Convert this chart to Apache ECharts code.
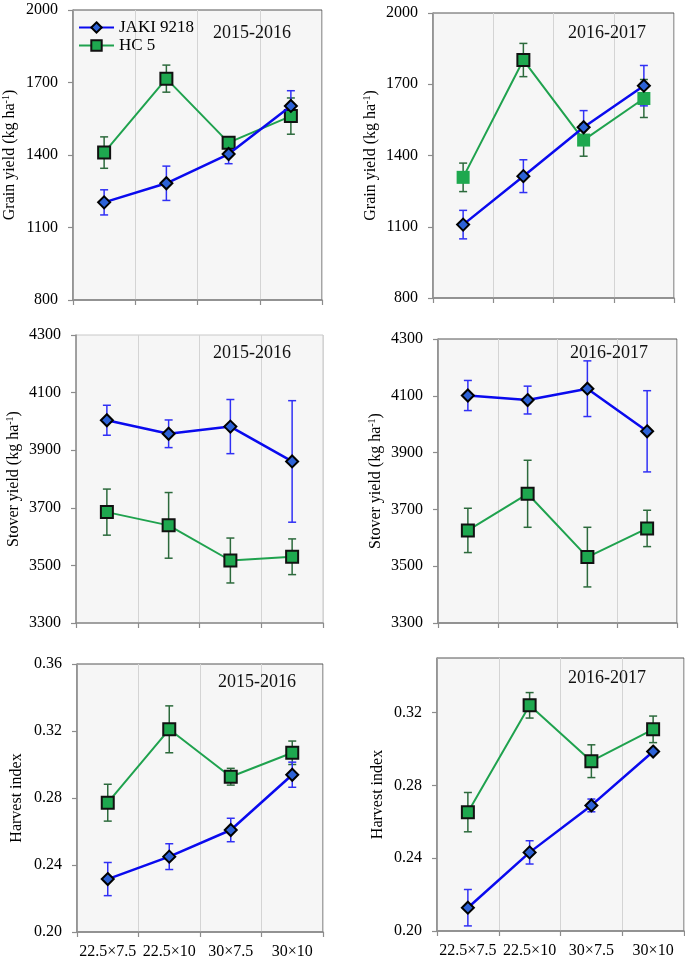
<!DOCTYPE html>
<html><head><meta charset="utf-8">
<script src="https://cdn.jsdelivr.net/npm/echarts@6/dist/echarts.min.js"></script>
<style>html,body{margin:0;padding:0;background:#fff}#c{width:685px;height:963px}</style>
</head><body><div id="c"></div>
<script>
// ---- data ----
const categories = ['22.5×7.5', '22.5×10', '30×7.5', '30×10'];
const seriesNames = ['JAKI 9218', 'HC 5'];
const yearLabels = ['2015-2016', '2016-2017'];

const grainTicks = [800, 1100, 1400, 1700, 2000];
const stoverTicks = [3300, 3500, 3700, 3900, 4100, 4300];
const hiTicks1516 = [0.20, 0.24, 0.28, 0.32, 0.36];
const hiTicks1617 = [0.20, 0.24, 0.28, 0.32];

const jakiGrain1516 = [1204, 1283, 1404, 1603];
const jakiGrain1516Err = [52, 71, 40, 63];
const hc5Grain1516 = [1410, 1716, 1451, 1561];
const hc5Grain1516Err = [65, 56, 18, 75];

const jakiGrain1617 = [1109, 1313, 1519, 1694];
const jakiGrain1617Err = [60, 69, 70, 85];
const hc5Grain1617 = [1308, 1802, 1465, 1640];
const hc5Grain1617Err = [60, 70, 68, 80];

const jakiStover1516 = [4004, 3957, 3982, 3861];
const jakiStover1516Err = [52, 48, 94, 211];
const hc5Stover1516 = [3685, 3639, 3517, 3530];
const hc5Stover1516Err = [80, 114, 78, 62];

const jakiStover1617 = [4101, 4085, 4125, 3975];
const jakiStover1617Err = [53, 49, 98, 143];
const hc5Stover1617 = [3626, 3755, 3532, 3633];
const hc5Stover1617Err = [78, 118, 105, 64];

const jakiHI1516 = [0.2316, 0.2450, 0.2609, 0.2939];
const jakiHI1516Err = [0.0099, 0.0077, 0.0070, 0.0075];
const hc5HI1516 = [0.2772, 0.3210, 0.2927, 0.3070];
const hc5HI1516Err = [0.0110, 0.0140, 0.0050, 0.0070];

const jakiHI1617 = [0.2128, 0.2432, 0.2690, 0.2986];
const jakiHI1617Err = [0.0100, 0.0064, 0.0035, 0.0010];
const hc5HI1617 = [0.2653, 0.3240, 0.2933, 0.3108];
const hc5HI1617Err = [0.0108, 0.0070, 0.0090, 0.0073];

// ---- chart ----
const FONT = 'Liberation Serif';
const JAKI_LINE = '#0a0aee', JAKI_ERR = '#3030f5', JAKI_FILL = '#2d62d6';
const HC_LINE = '#1fa24e', HC_ERR = '#2c6a3c', HC_FILL = '#1ea84f';

const panels = [
  {g:{left:72, top:10, width:250, height:290}, ticks:grainTicks, min:800, max:2000, name:'Grain yield (kg ha{sup|-1})', gap:54, fmt:v=>String(v),
   j:jakiGrain1516, je:jakiGrain1516Err, h:hc5Grain1516, he:hc5Grain1516Err, showX:false, border:'#555', year:0, tx:213, ty:24},
  {g:{left:433, top:13, width:241, height:285}, ticks:grainTicks, min:800, max:2000, name:'Grain yield (kg ha{sup|-1})', gap:53, fmt:v=>String(v),
   j:jakiGrain1617, je:jakiGrain1617Err, h:hc5Grain1617, he:hc5Grain1617Err, showX:false, border:'#555', year:1, tx:568, ty:24, plainHC:[0,2,3]},
  {g:{left:76, top:335, width:247, height:288}, ticks:stoverTicks, min:3300, max:4300, name:'Stover yield (kg ha{sup|-1})', gap:53, fmt:v=>String(v),
   j:jakiStover1516, je:jakiStover1516Err, h:hc5Stover1516, he:hc5Stover1516Err, showX:false, border:'#c8c8c8', year:0, tx:213, ty:344},
  {g:{left:438, top:339, width:239, height:284}, ticks:stoverTicks, min:3300, max:4300, name:'Stover yield (kg ha{sup|-1})', gap:53, fmt:v=>String(v),
   j:jakiStover1617, je:jakiStover1617Err, h:hc5Stover1617, he:hc5Stover1617Err, showX:false, border:'#555', year:1, tx:570, ty:344},
  {g:{left:77, top:664, width:246, height:268}, ticks:hiTicks1516, min:0.20, max:0.36, name:'Harvest index', gap:51, fmt:v=>v.toFixed(2),
   j:jakiHI1516, je:jakiHI1516Err, h:hc5HI1516, he:hc5HI1516Err, showX:true, border:'#555', year:0, tx:218, ty:673},
  {g:{left:437, top:658, width:247, height:273}, ticks:hiTicks1617, min:0.20, max:0.35, name:'Harvest index', gap:50, fmt:v=>v.toFixed(2),
   j:jakiHI1617, je:jakiHI1617Err, h:hc5HI1617, he:hc5HI1617Err, showX:true, border:'#555', year:1, tx:568, ty:669}
];

function errSeries(idx, vals, errs, color) {
  return {
    type: 'custom', xAxisIndex: idx, yAxisIndex: idx, z: 3, silent: true,
    data: vals.map((v, i) => [i, v - errs[i], v + errs[i]]),
    encode: {x: 0, y: [1, 2]},
    renderItem: function (params, api) {
      const lo = api.coord([api.value(0), api.value(1)]);
      const hi = api.coord([api.value(0), api.value(2)]);
      const w = 4;
      const st = {stroke: color, lineWidth: 1.5};
      return {type: 'group', children: [
        {type: 'line', shape: {x1: lo[0], y1: lo[1], x2: hi[0], y2: hi[1]}, style: st},
        {type: 'line', shape: {x1: lo[0] - w, y1: lo[1], x2: lo[0] + w, y2: lo[1]}, style: st},
        {type: 'line', shape: {x1: hi[0] - w, y1: hi[1], x2: hi[0] + w, y2: hi[1]}, style: st}
      ]};
    }
  };
}

const grid = [], xAxis = [], yAxis = [], series = [], title = [];
panels.forEach((p, i) => {
  grid.push(Object.assign({show: true, backgroundColor: '#f6f6f6', borderColor: p.border, borderWidth: 1}, p.g));
  xAxis.push({
    type: 'category', gridIndex: i, data: categories, boundaryGap: true,
    axisLine: {show: true, lineStyle: {color: '#8c8c8c', width: 1.5}},
    axisTick: {show: true, inside: false, length: 5, lineStyle: {color: '#8c8c8c', width: 1.2}},
    splitLine: {show: true, lineStyle: {color: '#d4d4d4', width: 1}},
    axisLabel: {show: p.showX, fontFamily: FONT, fontSize: 16, color: '#000', margin: 12, interval: 0}
  });
  yAxis.push({
    type: 'value', gridIndex: i, min: p.min, max: p.max,
    name: p.name, nameLocation: 'middle', nameGap: p.gap, nameRotate: 90,
    nameTextStyle: {fontFamily: FONT, fontSize: 16, color: '#000', lineHeight: 18,
      rich: {sup: {fontFamily: FONT, fontSize: 10, color: '#000', verticalAlign: 'top', lineHeight: 10}}},
    axisLine: {show: true, lineStyle: {color: '#8c8c8c', width: 1.5}},
    axisTick: {show: true, inside: false, length: 5, customValues: p.ticks, lineStyle: {color: '#8c8c8c', width: 1.2}},
    splitLine: {show: false},
    axisLabel: {fontFamily: FONT, fontSize: 16, color: '#000', margin: 15, customValues: p.ticks, formatter: p.fmt}
  });
  series.push(errSeries(i, p.h, p.he, HC_ERR));
  series.push(errSeries(i, p.j, p.je, JAKI_ERR));
  const plain = p.plainHC || [];
  series.push({
    type: 'line', name: seriesNames[1], xAxisIndex: i, yAxisIndex: i, z: 4,
    data: p.h.map((v, k) => plain.indexOf(k) >= 0 ? {value: v, itemStyle: {borderWidth: 0}, symbolSize: 13} : v),
    symbol: 'rect', symbolSize: 12,
    lineStyle: {color: HC_LINE, width: 2},
    itemStyle: {color: HC_FILL, borderColor: '#111', borderWidth: 2}
  });
  series.push({
    type: 'line', name: seriesNames[0], xAxisIndex: i, yAxisIndex: i, z: 5,
    data: p.j.slice(),
    symbol: 'diamond', symbolSize: 12,
    lineStyle: {color: JAKI_LINE, width: 2.5},
    itemStyle: {color: JAKI_FILL, borderColor: '#000', borderWidth: 2}
  });
  title.push({text: yearLabels[p.year], left: p.tx, top: p.ty, padding: 0,
    textStyle: {fontFamily: FONT, fontSize: 18, fontWeight: 'normal', color: '#111'}});
});

const chart = echarts.init(document.getElementById('c'), null, {renderer: 'canvas'});
chart.setOption({
  animation: false,
  backgroundColor: '#ffffff',
  title: title,
  legend: {
    data: seriesNames, orient: 'vertical', left: 78, top: 19, itemWidth: 35, itemHeight: 13, itemGap: 1,
    textStyle: {fontFamily: FONT, fontSize: 17, color: '#000'}, padding: 0
  },
  grid: grid, xAxis: xAxis, yAxis: yAxis, series: series
});
</script>
</body></html>
